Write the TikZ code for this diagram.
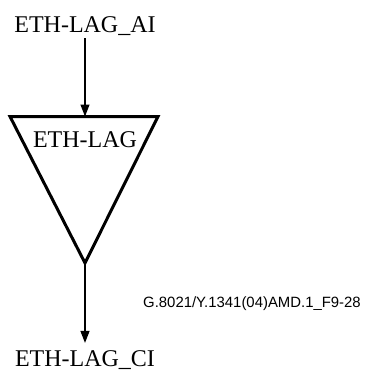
\documentclass[tikz,border=0pt]{standalone}
\usepackage{fontspec}
\setmainfont{Liberation Serif}
\newfontfamily\captfont{Liberation Sans}
\usetikzlibrary{arrows.meta, positioning}

\begin{document}
\begin{tikzpicture}[
  x=1pt, y=-1pt,
  lbl/.style={font=\fontsize{24}{28}\selectfont, inner sep=2pt, anchor=base},
  capt/.style={font=\captfont\fontsize{14.9}{17}\selectfont, inner sep=0pt, anchor=base west},
  fn/.style={draw, line width=3pt, line join=miter},
  sig/.style={draw, ->, line width=1.2pt},
  >={Triangle[length=12pt, width=9pt]}
]
  \useasboundingbox (0,0) rectangle (377,369);

  \node[lbl] (ai)  at (85,33)  {ETH-LAG\_AI};
  \node[lbl] (fun) at (85,147) {ETH-LAG};
  \node[lbl] (ci)  at (85,366) {ETH-LAG\_CI};
  \node[capt] (cap) at (143,307) {G.8021/Y.1341(04)AMD.1\_F9-28};

  \coordinate (tl) at (10,116.5);
  \coordinate (tr) at (158,116.5);
  \coordinate (top) at (85,116.5);
  \coordinate (apex) at (85,263);

  \draw[fn] (tl) -- (tr) -- (apex) -- cycle;

  \draw[sig] (ai) -- (top);
  \draw[sig, shorten >=5pt] (apex) -- (ci);
\end{tikzpicture}
\end{document}
